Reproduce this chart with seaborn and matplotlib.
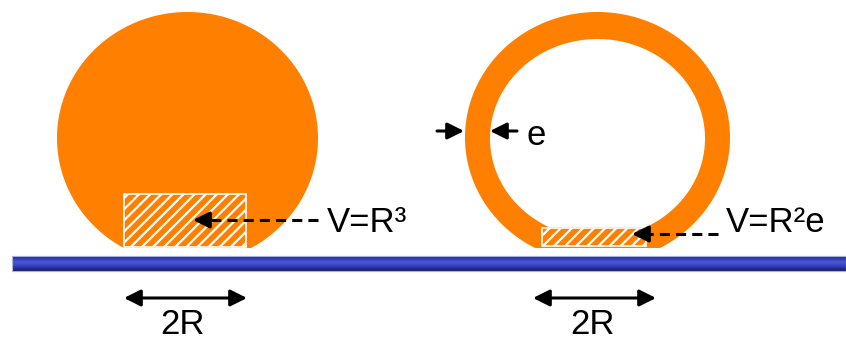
import numpy as np
import matplotlib
matplotlib.use("Agg")
import matplotlib.pyplot as plt
import seaborn as sns
from matplotlib.patches import Polygon, Rectangle
from matplotlib.colors import LinearSegmentedColormap

# ---------------- data (diagram geometry, pixel units) ----------------
labels_volume = ["V=R\u00b3", "V=R\u00b2e"]
label_thickness = "e"
labels_width = ["2R", "2R"]

solid_center = [187.5, 138.0]
solid_radii = [130.5, 126.0]
shell_center = [597.5, 137.4]
shell_outer_radii = [132.5, 125.4]
shell_inner_radii = [107.5, 99.4]
contact_y = [248.0, 248.0]
shell_inner_flat_y = 227.0

hatch_solid = [124, 194, 246, 247]   # x0, y0, x1, y1
hatch_shell = [542, 228, 646, 246]

substrate = [12, 846, 256, 271]       # x0, x1, y0, y1

vol_arrow_y = [220, 234]
vol_arrow_tip = [193, 632]
vol_arrow_tail = [318, 718]
vol_text_pos = [(327, 232), (726, 232)]

e_arrow_y = 131
e_arrow_left = [437, 464]
e_arrow_right = [517, 490]
e_text_pos = (527, 145)

width_arrows = [(124, 247), (533, 656)]
width_arrow_y = 298
width_text_pos = [(183, 334), (592, 334)]

ORANGE = "#FF7F00"

sns.set_theme(style="white")
plt.rcParams["font.family"] = ["Liberation Sans", "DejaVu Sans"]
plt.rcParams["hatch.linewidth"] = 1.6
plt.rcParams["hatch.color"] = "white"

fig = plt.figure(figsize=(8.46, 3.45), dpi=100)
ax = fig.add_axes([0, 0, 1, 1])
ax.set_xlim(0, 846)
ax.set_ylim(345, 0)
ax.axis("off")


def truncated_ellipse(cx, cy, a, b, ymax, n=720):
    t = np.linspace(0, 2 * np.pi, n)
    x = cx + a * np.cos(t)
    y = np.minimum(cy + b * np.sin(t), ymax)
    return np.column_stack([x, y])


# solid droplet
ax.add_patch(Polygon(truncated_ellipse(solid_center[0], solid_center[1],
                                       solid_radii[0], solid_radii[1], contact_y[0]),
                     closed=True, facecolor=ORANGE, edgecolor="none", zorder=2))
# hollow shell
ax.add_patch(Polygon(truncated_ellipse(shell_center[0], shell_center[1],
                                       shell_outer_radii[0], shell_outer_radii[1], contact_y[1]),
                     closed=True, facecolor=ORANGE, edgecolor="none", zorder=2))
ax.add_patch(Polygon(truncated_ellipse(shell_center[0], shell_center[1] + 1,
                                       shell_inner_radii[0], shell_inner_radii[1], shell_inner_flat_y),
                     closed=True, facecolor="white", edgecolor="none", zorder=3))

# hatched contact volumes
for hx0, hy0, hx1, hy1 in (hatch_solid, hatch_shell):
    ax.add_patch(Rectangle((hx0, hy0), hx1 - hx0, hy1 - hy0, facecolor=ORANGE,
                           edgecolor="white", hatch="///", linewidth=1.2, zorder=4))

# substrate bar with gradient
cmap = LinearSegmentedColormap.from_list(
    "bar", ["#1c2478", "#3440b8", "#4a58d8", "#3a47c4", "#28329a", "#161d66"])
grad = np.linspace(0, 1, 64).reshape(-1, 1)
ax.imshow(grad, cmap=cmap, extent=(substrate[0], substrate[1], substrate[3], substrate[2]),
          origin="upper", aspect="auto", zorder=1, interpolation="bilinear")
ax.add_patch(Rectangle((substrate[0], substrate[2]), substrate[1] - substrate[0],
                       substrate[3] - substrate[2], facecolor="none",
                       edgecolor="#aab0e0", linewidth=0.8, zorder=1.5))

arrow_style = "-|>,head_length=1.0,head_width=0.5"
dbl_style = "<|-|>,head_length=1.0,head_width=0.5"

# dashed volume arrows
for yv, tip, tail in zip(vol_arrow_y, vol_arrow_tip, vol_arrow_tail):
    ax.plot([tail, tip + 14], [yv, yv], color="black", lw=2.2,
            dashes=(3.3, 2.0), solid_capstyle="butt", zorder=6)
    ax.annotate("", xy=(tip, yv), xytext=(tip + 15, yv),
                arrowprops=dict(arrowstyle=arrow_style, color="black", lw=2.2,
                                shrinkA=0, shrinkB=0, mutation_scale=10), zorder=6)

for (tx, ty), lab in zip(vol_text_pos, labels_volume):
    ax.text(tx, ty, lab, fontsize=25, ha="left", va="baseline", color="black", zorder=7)

# thickness arrows
ax.annotate("", xy=(e_arrow_left[1], e_arrow_y), xytext=(e_arrow_left[0], e_arrow_y),
            arrowprops=dict(arrowstyle=arrow_style, color="black", lw=2.2,
                            shrinkA=0, shrinkB=0, mutation_scale=10))
ax.annotate("", xy=(e_arrow_right[1], e_arrow_y), xytext=(e_arrow_right[0], e_arrow_y),
            arrowprops=dict(arrowstyle=arrow_style, color="black", lw=2.2,
                            shrinkA=0, shrinkB=0, mutation_scale=10))
ax.text(e_text_pos[0], e_text_pos[1], label_thickness, fontsize=25,
        ha="left", va="baseline", color="black")

# width arrows
for (x0, x1), (tx, ty), lab in zip(width_arrows, width_text_pos, labels_width):
    ax.annotate("", xy=(x1, width_arrow_y), xytext=(x0, width_arrow_y),
                arrowprops=dict(arrowstyle=dbl_style, color="black", lw=2.2,
                                shrinkA=0, shrinkB=0, mutation_scale=10))
    ax.text(tx, ty, lab, fontsize=25, ha="center", va="baseline", color="black")

fig.savefig("out.png", dpi=100)
